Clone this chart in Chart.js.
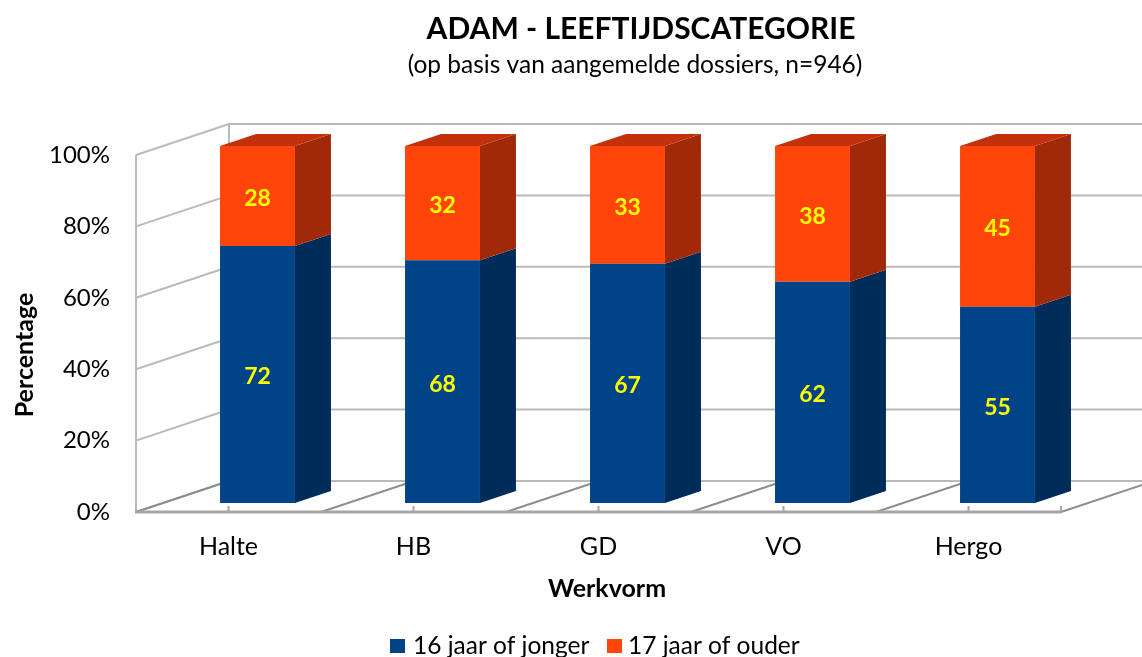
<!DOCTYPE html>
<html>
<head>
<meta charset="utf-8">
<script src="https://cdn.jsdelivr.net/npm/chart.js@4/dist/chart.umd.min.js"></script>
<style>
html,body{margin:0;padding:0;background:#fff;}
#wrap{width:1142px;height:657px;position:relative;}
</style>
</head>
<body>
<div id="wrap"><canvas id="c" width="1142" height="657"></canvas></div>
<script>
const categories = ['Halte', 'HB', 'GD', 'VO', 'Hergo'];
const jonger = [72, 68, 67, 62, 55];
const ouder = [28, 32, 33, 38, 45];
const seriesNames = ['16 jaar of jonger', '17 jaar of ouder'];
const yTickValues = [0, 20, 40, 60, 80, 100];
const titleText = 'ADAM - LEEFTIJDSCATEGORIE';
const subtitleText = '(op basis van aangemelde dossiers, n=946)';
const xTitle = 'Werkvorm';
const yTitle = 'Percentage';

const FONT = 'Lato, "Open Sans", sans-serif';
const BLUE = '#004487', BLUE_SIDE = '#002C5A', BLUE_TOP = '#003870';
const ORANGE = '#FF450A', ORANGE_SIDE = '#A0290A', ORANGE_TOP = '#C2310A';
const WALL_DX = 93, WALL_DY = -31;   // depth of the 3D floor/walls
const BAR_DX = 29, BAR_DY = -9;      // bar plane offset inside the depth
const SIDE_DX = 36, SIDE_DY = -12;   // bar depth

const faceColors = [[BLUE, BLUE_SIDE, BLUE_TOP], [ORANGE, ORANGE_SIDE, ORANGE_TOP]];

const threeD = {
  id: 'threeD',
  beforeDatasetsDraw(chart) {
    const ctx = chart.ctx, ca = chart.chartArea;
    const ys = chart.scales.y, xs = chart.scales.x;
    const L = ca.left, R = ca.right, B = ca.bottom, T = ca.top;
    ctx.save();
    ctx.lineCap = 'butt';
    ctx.strokeStyle = '#BABABA';
    ctx.lineWidth = 2;
    yTickValues.forEach(v => {
      const y = ys.getPixelForValue(v);
      ctx.beginPath();
      ctx.moveTo(L, y);
      ctx.lineTo(L + WALL_DX, y + WALL_DY);
      ctx.lineTo(R + WALL_DX, y + WALL_DY);
      ctx.stroke();
    });
    ctx.beginPath();
    ctx.moveTo(L, T); ctx.lineTo(L, B);
    ctx.moveTo(L + WALL_DX, T + WALL_DY); ctx.lineTo(L + WALL_DX, B + WALL_DY);
    ctx.stroke();
    ctx.strokeStyle = '#8E8E8E';
    const n = categories.length;
    for (let k = 0; k <= n; k++) {
      const x = L + k * (R - L) / n;
      ctx.beginPath();
      ctx.moveTo(x, B);
      ctx.lineTo(x + WALL_DX, B + WALL_DY);
      ctx.stroke();
    }
    ctx.strokeStyle = '#A6A6A6';
    ctx.lineWidth = 3;
    ctx.beginPath();
    ctx.moveTo(L - 1, B); ctx.lineTo(R, B);
    ctx.stroke();
    ctx.lineWidth = 2;
    ctx.strokeStyle = '#A6A6A6';
    categories.forEach((c, i) => {
      const x = xs.getPixelForValue(i);
      ctx.beginPath(); ctx.moveTo(x, B); ctx.lineTo(x, B - 6); ctx.stroke();
    });
    ctx.beginPath(); ctx.moveTo(R, B); ctx.lineTo(R, B - 6); ctx.stroke();
    ctx.restore();
    ctx.save();
    ctx.translate(BAR_DX, BAR_DY);
  },
  afterDatasetsDraw(chart) {
    const ctx = chart.ctx;
    const last = chart.data.datasets.length - 1;
    chart.data.datasets.forEach((ds, di) => {
      const meta = chart.getDatasetMeta(di);
      meta.data.forEach(el => {
        const p = el.getProps(['x', 'y', 'base', 'width'], true);
        const xl = p.x - p.width / 2, xr = p.x + p.width / 2;
        const top = Math.min(p.y, p.base), bot = Math.max(p.y, p.base);
        ctx.fillStyle = faceColors[di][1];
        ctx.beginPath();
        ctx.moveTo(xr, top);
        ctx.lineTo(xr + SIDE_DX, top + SIDE_DY);
        ctx.lineTo(xr + SIDE_DX, bot + SIDE_DY);
        ctx.lineTo(xr, bot);
        ctx.closePath();
        ctx.fill();
        if (di === last) {
          ctx.fillStyle = faceColors[di][2];
          ctx.beginPath();
          ctx.moveTo(xl, top);
          ctx.lineTo(xr, top);
          ctx.lineTo(xr + SIDE_DX, top + SIDE_DY);
          ctx.lineTo(xl + SIDE_DX, top + SIDE_DY);
          ctx.closePath();
          ctx.fill();
        }
      });
    });
    ctx.fillStyle = '#FFFF00';
    ctx.font = 'bold 23px ' + FONT;
    ctx.textAlign = 'center';
    ctx.textBaseline = 'alphabetic';
    chart.data.datasets.forEach((ds, di) => {
      const meta = chart.getDatasetMeta(di);
      meta.data.forEach((el, i) => {
        const p = el.getProps(['x', 'y', 'base'], true);
        ctx.fillText(String(ds.data[i]), p.x, (p.y + p.base) / 2 + 10);
      });
    });
    ctx.restore();
  },
  afterDraw(chart) {
    const ctx = chart.ctx;
    ctx.save();
    ctx.fillStyle = '#000';
    ctx.textAlign = 'center';
    ctx.textBaseline = 'alphabetic';
    ctx.font = 'bold 30px ' + FONT;
    ctx.fillText(titleText, 641, 39);
    ctx.font = '24.5px ' + FONT;
    ctx.fillText(subtitleText, 635, 73);
    ctx.font = 'bold 25px ' + FONT;
    ctx.fillText(xTitle, 607, 597);
    ctx.save();
    ctx.translate(33, 355);
    ctx.rotate(-Math.PI / 2);
    ctx.fillText(yTitle, 0, 0);
    ctx.restore();
    ctx.font = '24.5px ' + FONT;
    ctx.textAlign = 'left';
    const items = [[390, BLUE, 413], [607, ORANGE, 628]];
    items.forEach((it, i) => {
      ctx.fillStyle = it[1];
      ctx.fillRect(it[0], 639, 15, 14);
      ctx.fillStyle = '#000';
      ctx.fillText(seriesNames[i], it[2], 654);
    });
    ctx.restore();
  }
};

new Chart(document.getElementById('c'), {
  type: 'bar',
  data: {
    labels: categories,
    datasets: [
      { label: seriesNames[0], data: jonger, backgroundColor: BLUE, borderWidth: 0, clip: false },
      { label: seriesNames[1], data: ouder, backgroundColor: ORANGE, borderWidth: 0, clip: false }
    ]
  },
  options: {
    responsive: false,
    animation: false,
    devicePixelRatio: 1,
    layout: { padding: { top: 155, right: 81, bottom: 0, left: 0 } },
    datasets: { bar: { barPercentage: 0.405, categoryPercentage: 1 } },
    plugins: { legend: { display: false }, title: { display: false }, tooltip: { enabled: false } },
    scales: {
      x: {
        stacked: true,
        grid: { display: false },
        border: { display: false },
        ticks: { color: '#000', font: { family: FONT, size: 25 }, padding: 12 },
        afterFit(s) { s.height = 145; }
      },
      y: {
        stacked: true,
        min: 0, max: 100,
        grid: { display: false, drawTicks: false },
        border: { display: false },
        ticks: {
          stepSize: 20,
          color: '#000',
          font: { family: FONT, size: 24 },
          padding: 26,
          callback: v => v + '%'
        },
        afterFit(s) { s.width = 136; }
      }
    }
  },
  plugins: [threeD]
});
</script>
</body>
</html>
